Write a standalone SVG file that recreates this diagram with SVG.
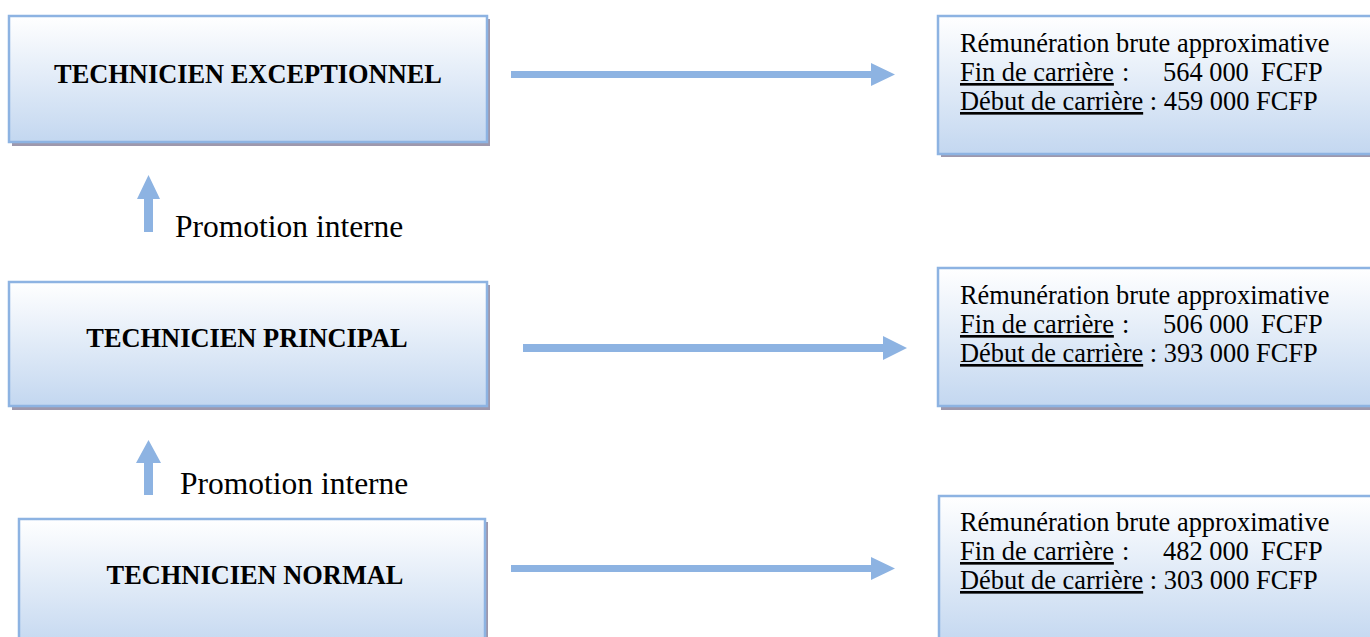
<svg xmlns="http://www.w3.org/2000/svg" width="1370" height="637" viewBox="0 0 1370 637">
<style>
.box{fill:url(#g);stroke:#8DB3E2;stroke-width:2.5}
.sh{fill:#9E98AC}
.t{font-family:"Liberation Serif","Times New Roman",serif;fill:#000}
.b{font-weight:bold;font-size:26.4px}
.r{font-size:26.4px}
.p{font-size:31.5px}
.u{text-decoration:underline}
.arr{fill:#8DB3E2}
</style>
<defs>
<linearGradient id="g" x1="0" y1="0" x2="0" y2="1">
<stop offset="0" stop-color="#FFFFFF"/>
<stop offset="1" stop-color="#C3D7F0"/>
</linearGradient>
</defs>
<g id="n1">
<rect class="sh" x="12" y="19" width="478" height="127"/>
<rect class="box" x="9" y="16" width="478" height="126"/>
<text class="t b" x="248" y="83" text-anchor="middle">TECHNICIEN EXCEPTIONNEL</text>
</g>
<g id="n2">
<rect class="sh" x="12" y="285" width="478" height="125"/>
<rect class="box" x="9" y="282" width="478" height="124"/>
<text class="t b" x="247" y="347" text-anchor="middle">TECHNICIEN PRINCIPAL</text>
</g>
<g id="n3">
<rect class="sh" x="22" y="522" width="466" height="130"/>
<rect class="box" x="19" y="519" width="466" height="130"/>
<text class="t b" x="255" y="584" text-anchor="middle">TECHNICIEN NORMAL</text>
</g>
<g id="r1">
<rect class="sh" x="941" y="19" width="440" height="138"/>
<rect class="box" x="938" y="16" width="440" height="138"/>
<text class="t r" x="960" y="52">Rémunération brute approximative</text>
<text class="t r" y="81"><tspan x="960" class="u">Fin de carrière</tspan><tspan x="1122">:</tspan><tspan x="1163">564 000</tspan><tspan x="1261">FCFP</tspan></text>
<text class="t r" y="110"><tspan x="960" class="u">Début de carrière</tspan><tspan> : 459 000 FCFP</tspan></text>
</g>
<g id="r2">
<rect class="sh" x="941" y="271" width="440" height="139"/>
<rect class="box" x="938" y="268" width="440" height="138"/>
<text class="t r" x="960" y="304">Rémunération brute approximative</text>
<text class="t r" y="333"><tspan x="960" class="u">Fin de carrière</tspan><tspan x="1122">:</tspan><tspan x="1163">506 000</tspan><tspan x="1261">FCFP</tspan></text>
<text class="t r" y="362"><tspan x="960" class="u">Début de carrière</tspan><tspan> : 393 000 FCFP</tspan></text>
</g>
<g id="r3">
<rect class="sh" x="942" y="499" width="440" height="150"/>
<rect class="box" x="939" y="496" width="440" height="150"/>
<text class="t r" x="960" y="531">Rémunération brute approximative</text>
<text class="t r" y="560"><tspan x="960" class="u">Fin de carrière</tspan><tspan x="1122">:</tspan><tspan x="1163">482 000</tspan><tspan x="1261">FCFP</tspan></text>
<text class="t r" y="589"><tspan x="960" class="u">Début de carrière</tspan><tspan> : 303 000 FCFP</tspan></text>
</g>
<g id="labels">
<text class="t p" x="175" y="237">Promotion interne</text>
<text class="t p" x="180" y="494">Promotion interne</text>
</g>
<g id="connectors">
<polygon class="arr" points="511,71 871,71 871,63 895,74.5 871,86 871,78 511,78"/>
<polygon class="arr" points="523,344 883,344 883,336 907,348 883,360 883,352 523,352"/>
<polygon class="arr" points="511,565 871,565 871,557 895,568.5 871,580 871,572 511,572"/>
<polygon class="arr" points="144,232 144,199 137,199 148.5,175 160,199 153,199 153,232"/>
<polygon class="arr" points="144,495 144,463 136,463 148.5,440 161,463 153,463 153,495"/>
</g>
</svg>
